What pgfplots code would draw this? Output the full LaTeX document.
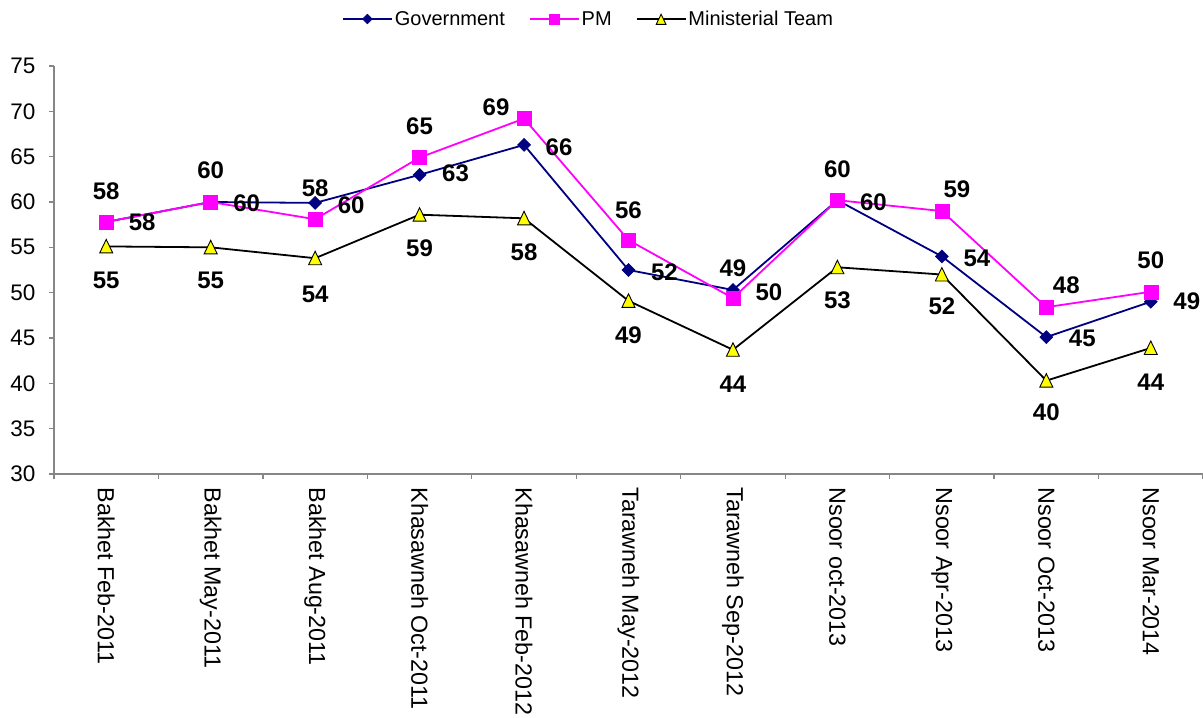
\documentclass[border=0pt]{standalone}
\usepackage{fontspec}
\setmainfont{Liberation Sans}
\usepackage{pgfplots}
\pgfplotsset{compat=1.18}
\usepackage{pgfplotstable}

\definecolor{navyc}{RGB}{0,0,128}
\definecolor{magc}{RGB}{255,0,255}
\definecolor{yelc}{RGB}{255,255,0}
\definecolor{axgray}{RGB}{134,134,134}

\pgfplotstableread{
x y lab dx dy
0 57.8 58 36 0
1 60.0 60 36 1
2 59.9 60 36 2
3 63.0 63 36 -2
4 66.3 66 35 2
5 52.5 52 36 2
6 50.3 50 36 2
7 60.2 60 36 2
8 54.0 54 35 2
9 45.1 45 36 1
10 49.0 49 36 0
}\govtab

\pgfplotstableread{
x y lab dx dy
0 57.8 58 0 -31
1 60.0 60 0 -32
2 58.1 58 0 -31
3 64.9 65 0 -31
4 69.2 69 -28 -11
5 55.8 56 0 -30
6 49.4 49 0 -30
7 60.2 60 0 -31
8 59.0 59 15 -22
9 48.4 48 20 -22
10 50.1 50 0 -32
}\pmtab

\pgfplotstableread{
x y lab dx dy
0 55.1 55 0 32
1 55.0 55 0 31
2 53.8 54 0 34
3 58.6 59 0 32
4 58.2 58 0 32
5 49.1 49 0 32
6 43.7 44 0 32
7 52.8 53 0 31
8 52.0 52 0 30
9 40.3 40 0 30
10 43.9 44 0 32
}\mintab

\pgfplotsset{
  lbl/.style={
    nodes near coords,
    point meta=explicit symbolic,
    visualization depends on={\thisrow{dx}\as\dx},
    visualization depends on={\thisrow{dy}\as\dy},
    every node near coord/.style={anchor=center, xshift=\dx pt, yshift=-\dy pt, font=\fontsize{24}{26}\selectfont\bfseries, text=black},
  }
}

\begin{document}
\begin{tikzpicture}
\useasboundingbox (-54pt,-244pt) rectangle (1149pt,474pt);
\begin{axis}[
  at={(0pt,0pt)}, anchor=south west,
  width=1149pt, height=408pt, scale only axis,
  xmin=-0.5, xmax=10.5, ymin=30, ymax=75,
  axis x line*=bottom, axis y line*=left,
  axis line style={axgray, line width=1.2pt, -},
  every tick/.style={axgray, line width=1.2pt},
  tick align=outside, major tick length=5pt,
  ytick={30,35,...,75},
  xtick={-0.5,0.5,...,10.5},
  x tick label as interval,
  xticklabels={Bakhet Feb-2011,Bakhet May-2011,Bakhet Aug-2011,Khasawneh Oct-2011,Khasawneh Feb-2012,Tarawneh May-2012,Tarawneh Sep-2012,Nsoor oct-2013,Nsoor Apr-2013,Nsoor Oct-2013,Nsoor Mar-2014},
  xticklabel style={rotate=-90, anchor=west, xshift=5pt, font=\fontsize{23.3}{26}\selectfont, text=black},
  yticklabel style={xshift=-10pt, font=\fontsize{22.5}{24}\selectfont, text=black},
  /pgf/number format/assume math mode=true,
  clip=false,
  legend columns=3,
  legend style={draw=none, at={(0.4652,1)}, anchor=center, yshift=47pt,
    font=\fontsize{20}{24}\selectfont,
    /tikz/every even column/.append style={column sep=22pt}},
  legend image code/.code={\draw[mark repeat=2,mark phase=2,#1,every mark/.append style={scale=0.75}] plot coordinates {(0pt,0pt) (24.5pt,0pt) (49pt,0pt)};},
]
\addplot[navyc, line width=1.8pt, mark=square*, mark size=4.6pt,
  mark options={rotate=45, fill=navyc, draw=navyc, line width=0.5pt}, lbl]
  table[x=x, y=y, meta=lab]{\govtab};
\addlegendentry{Government}
\addplot[magc, line width=1.8pt, mark=square*, mark size=7pt,
  mark options={fill=magc, draw=magc, line width=0.5pt}, lbl]
  table[x=x, y=y, meta=lab]{\pmtab};
\addlegendentry{PM}
\addplot[black, line width=1.8pt, mark=triangle*, mark size=7.5pt,
  mark options={yshift=-2pt, yscale=1.2, fill=yelc, draw=black, line width=0.9pt}, lbl]
  table[x=x, y=y, meta=lab]{\mintab};
\addlegendentry{Ministerial Team}
\end{axis}
\end{tikzpicture}
\end{document}
